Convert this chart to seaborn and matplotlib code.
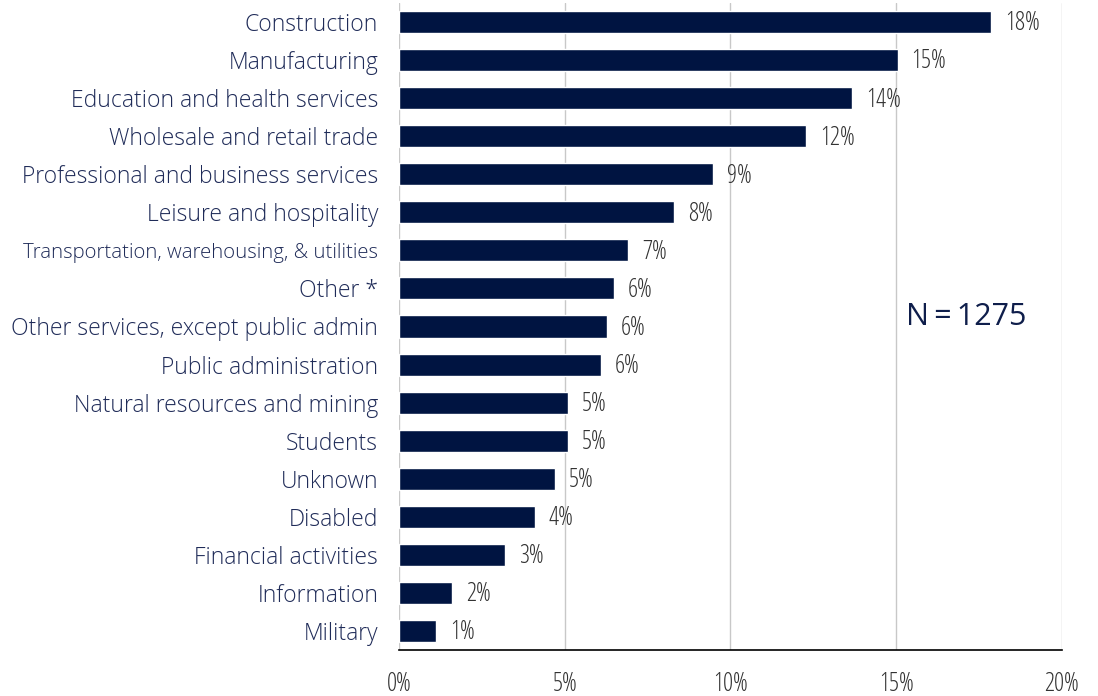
import numpy as np
import pandas as pd
import seaborn as sns
import matplotlib.pyplot as plt

categories = ["Construction", "Manufacturing", "Education and health services",
              "Wholesale and retail trade", "Professional and business services",
              "Leisure and hospitality", "Transportation, warehousing, & utilities",
              "Other *", "Other services, except public admin", "Public administration",
              "Natural resources and mining", "Students", "Unknown", "Disabled",
              "Financial activities", "Information", "Military"]
shares = [17.86, 15.05, 13.67, 12.28, 9.47, 8.30, 6.91, 6.49, 6.27, 6.09,
          5.10, 5.10, 4.71, 4.10, 3.20, 1.60, 1.12]
labels = ["18%", "15%", "14%", "12%", "9%", "8%", "7%", "6%", "6%", "6%",
          "5%", "5%", "5%", "4%", "3%", "2%", "1%"]
ticks = [0, 5, 10, 15, 20]
tick_labels = ["0%", "5%", "10%", "15%", "20%"]

df = pd.DataFrame({"category": categories, "share": shares})

sns.set_style("white")
plt.rcParams['font.family'] = ['Open Sans', 'DejaVu Sans']

fig = plt.figure(figsize=(10.98, 6.96), dpi=100)
ax = fig.add_axes([0.3634, 0.0661, 0.6036, 0.9296])

sns.barplot(data=df, x="share", y="category", color="#001441", saturation=1,
            width=0.58, ax=ax)

ax.set_xlim(0, 20)
ax.set_xticks(ticks)
ax.set_xticklabels(tick_labels, fontsize=18, color="#333333", fontstretch="condensed")
ax.xaxis.grid(True, color="#c8c8c8", linewidth=1)
ax.set_axisbelow(True)
ax.set_xlabel("")
ax.set_ylabel("")

for sp in ["top", "right", "left"]:
    ax.spines[sp].set_visible(False)
ax.spines["bottom"].set_color("black")
ax.spines["bottom"].set_linewidth(1.2)
ax.tick_params(axis="x", direction="out", length=5, width=1, color="black", pad=11)
ax.tick_params(axis="y", length=0, pad=15)

for t in ax.get_yticklabels():
    t.set_color("#1f2b58")
    t.set_fontweight("light")
    t.set_fontsize(16.5)
    if t.get_text().startswith("Transportation"):
        t.set_fontsize(14.7)

for i, (v, lab) in enumerate(zip(shares, labels)):
    ax.text(v + 0.42, i + 0.05, lab, va="center", ha="left", fontsize=18,
            color="#333333", fontstretch="condensed")

ax.text(15.3, 7.75, "N\u2009=\u20091275", fontsize=22, color="#0f1e4b",
        va="center", ha="left")

fig.savefig("out.png", dpi=100)
